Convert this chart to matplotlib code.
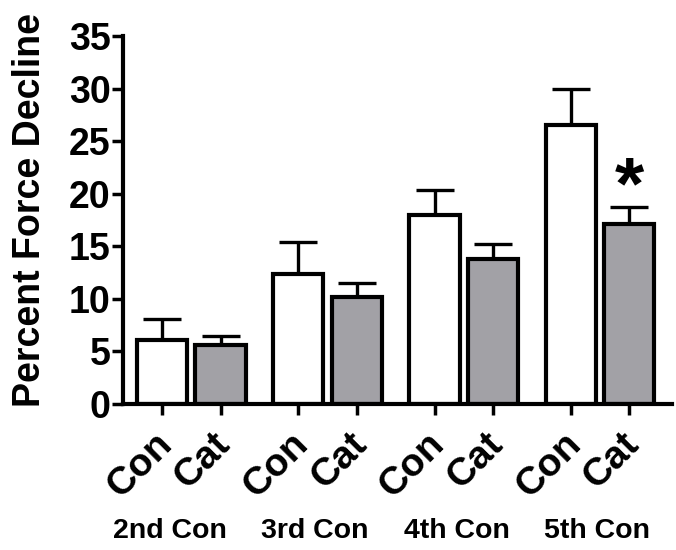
import numpy as np
import matplotlib
matplotlib.use("Agg")
import matplotlib.pyplot as plt

plt.rcParams['font.family'] = ['Liberation Sans', 'DejaVu Sans']
plt.rcParams['font.weight'] = 'bold'

# Data: mean percent force decline and upper SEM per contraction
groups = ["2nd Con", "3rd Con", "4th Con", "5th Con"]
conditions = ["Con", "Cat"]
con_mean = [6.1, 12.4, 18.0, 26.5]
con_err = [1.95, 3.05, 2.35, 3.45]
cat_mean = [5.6, 10.15, 13.8, 17.1]
cat_err = [0.85, 1.35, 1.45, 1.65]
significant = [False, False, False, True]   # Cat vs Con
y_ticks = [0, 5, 10, 15, 20, 25, 30, 35]

fig = plt.figure(figsize=(6.76, 5.5), dpi=100)
ax = fig.add_axes([0.1820, 0.2655, 0.8121, 0.669])

group_step = 2.33
con_x = np.arange(len(groups)) * group_step
cat_x = con_x + 1.0
width = 0.86
lw = 3.0

ax.bar(con_x, con_mean, width, color='white', edgecolor='black', linewidth=lw, zorder=2)
ax.bar(cat_x, cat_mean, width, color='#a2a1a6', edgecolor='black', linewidth=lw, zorder=2)

# upward-only error bars
ax.errorbar(con_x, con_mean, yerr=[np.zeros(4), con_err], fmt='none', ecolor='black',
            elinewidth=2.4, capsize=14, capthick=2.4, zorder=1)
ax.errorbar(cat_x, cat_mean, yerr=[np.zeros(4), cat_err], fmt='none', ecolor='black',
            elinewidth=2.4, capsize=14, capthick=2.4, zorder=1)

for x, m, e, s in zip(cat_x, cat_mean, cat_err, significant):
    if s:
        ax.text(x, m + e + 1.7, "*", ha='center', va='center', fontsize=54, fontweight='bold')

ax.set_xlim(-0.667, 8.72)
ax.set_ylim(0, 35)
ax.set_yticks(y_ticks)
ax.set_yticklabels([str(t) for t in y_ticks], fontsize=27, fontweight='bold')

# condition labels under each bar, slanted
xt = np.ravel(np.column_stack([con_x, cat_x]))
ax.set_xticks(xt)
ax.set_xticklabels([])
for x, lab in zip(xt, conditions * len(groups)):
    ax.annotate(lab, xy=(x, 0), xycoords=('data', 'axes fraction'),
                xytext=(-6, -16), textcoords='offset points',
                fontsize=28, fontweight='bold', rotation=45,
                ha='right', va='top', rotation_mode='anchor', annotation_clip=False)

ax.spines['top'].set_visible(False)
ax.spines['right'].set_visible(False)
for s in ('left', 'bottom'):
    ax.spines[s].set_linewidth(3.0)
ax.tick_params(axis='y', length=8, width=2.5, pad=1)
ax.tick_params(axis='x', length=8, width=2.5, pad=4)

ax.set_ylabel("Percent Force Decline", fontsize=27, fontweight='bold', va='center')
ax.yaxis.set_label_coords(-0.170, 0.527)

group_label_px = [170, 315, 457, 597]
for g, px in zip(groups, group_label_px):
    fig.text(px / 676, 1 - 531 / 550, g, ha='center', va='center', fontsize=20.5, fontweight='bold')

fig.savefig("out.png", dpi=100)
